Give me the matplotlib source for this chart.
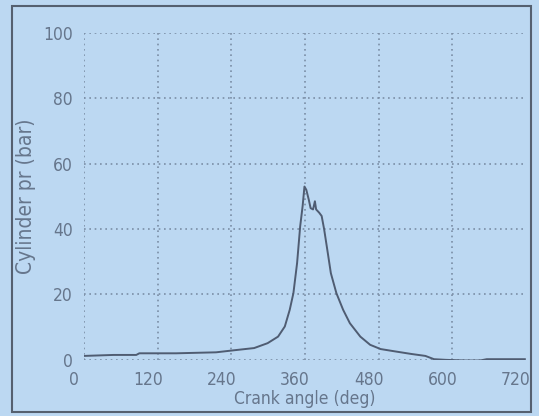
import matplotlib
matplotlib.use("Agg")
import matplotlib.pyplot as plt
import matplotlib.transforms as mtransforms
from matplotlib.patches import Rectangle

# crank angle (deg) vs cylinder pressure (bar)
crank_angle = [0, 48, 85, 90, 150, 215, 243, 277, 299, 316, 327, 335, 341, 347,
               352, 356, 359, 362, 366, 369, 373, 376, 378, 383, 387, 391, 397,
               402, 411, 422, 433, 450, 466, 483, 506, 533, 556, 570, 589, 620,
               645, 656, 690, 718]
pressure = [1.2, 1.5, 1.5, 2.0, 2.0, 2.3, 2.9, 3.6, 5.1, 7.1, 10.2, 15.3, 20.4,
            29.6, 40.8, 47.0, 53.0, 52.0, 49.0, 46.4, 46.0, 48.5, 46.0, 45.0,
            44.0, 40.0, 32.7, 26.5, 20.4, 15.3, 11.2, 7.1, 4.6, 3.3, 2.6, 1.8,
            1.2, 0.2, 0.0, -0.2, -0.2, 0.2, 0.2, 0.2]

x_ticks = [0, 120, 240, 360, 480, 600, 720]
y_ticks = [0, 20, 40, 60, 80, 100]

bg = "#bcd8f2"
txt = "#66768c"

plt.rcParams['font.family'] = ['DejaVu Sans']
plt.rcParams['font.stretch'] = 'condensed'

fig = plt.figure(figsize=(5.39, 4.16), dpi=100, facecolor=bg)
ax = fig.add_axes([0.156, 0.135, 0.82, 0.786], facecolor=bg)

ax.plot(crank_angle, pressure, color="#4f5c72", lw=1.4)

ax.set_xlim(0, 720)
ax.set_ylim(0, 100)
ax.set_xticks(x_ticks)
ax.set_yticks(y_ticks)
ax.tick_params(length=0, labelsize=12.5, colors=txt, pad=8)
ax.grid(True, color="#7b8ea6", linestyle=(0, (1, 2.2)), lw=1.2)
for s in ax.spines.values():
    s.set_visible(False)
ax.xaxis.get_gridlines()[-1].set_visible(False)

# the screen software draws x labels a little left of the grid
shift = mtransforms.ScaledTranslation(-10 / 100, 0, fig.dpi_scale_trans)
for lab in ax.get_xticklabels():
    lab.set_transform(lab.get_transform() + shift)

ax.set_xlabel("Crank angle (deg)", fontsize=12.5, color=txt, labelpad=1)
ax.set_ylabel("Cylinder pr (bar)", fontsize=15, color=txt, labelpad=5)

fig.patches.append(Rectangle((0.022, 0.01), 0.963, 0.975, transform=fig.transFigure,
                             fill=False, edgecolor="#556070", lw=1.5))

fig.savefig("out.png", dpi=100, facecolor=bg)
